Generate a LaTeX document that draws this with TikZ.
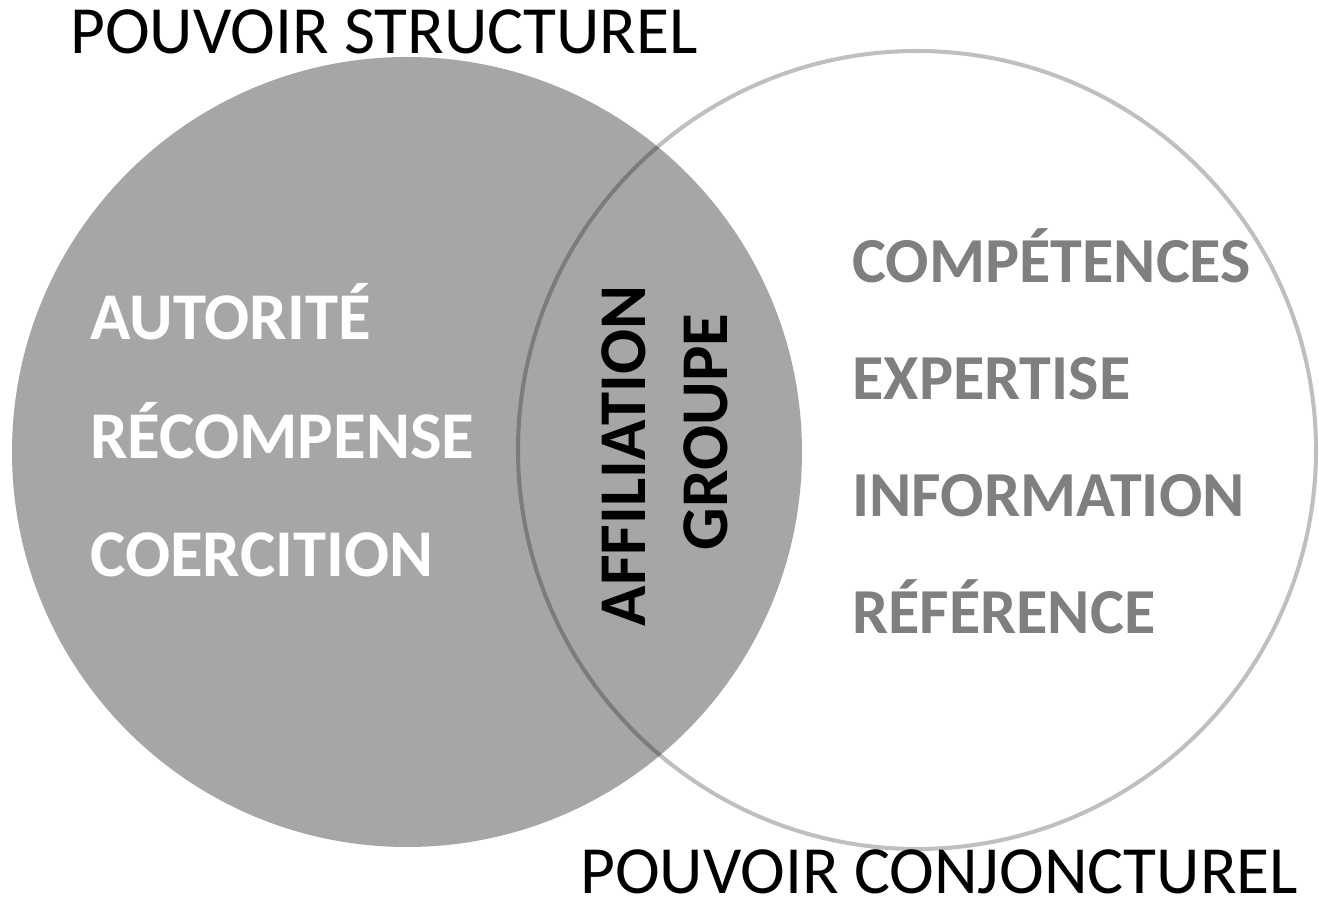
\documentclass[tikz,border=0pt]{standalone}
\usepackage{fontspec}
\setmainfont{Carlito}
\usepackage{xcolor}
\usetikzlibrary{positioning}

\definecolor{discgray}{HTML}{A6A6A6}
\definecolor{wordgray}{HTML}{7F7F7F}

\begin{document}
\begin{tikzpicture}[every node/.style={inner sep=0pt, font=\fontsize{38.4}{46}\selectfont},
  title/.style={anchor=base west},
  inword/.style={anchor=base west, text=white, font=\fontsize{38}{46}\selectfont\bfseries},
  outword/.style={anchor=base west, text=wordgray, font=\fontsize{36.5}{44}\selectfont\bfseries},
  midword/.style={rotate=90, text=black, font=\fontsize{38}{46}\selectfont\bfseries}]
  \useasboundingbox (0,0) rectangle (26.38,18.04);

  % the two discs
  \fill[discgray] (8.14,9.0) circle (7.9);
  \draw[black, draw opacity=0.25, line width=2.3pt] (18.34,9.04) circle (7.98);

  % headings
  \node[title] (struct) at (1.4,16.96) {POUVOIR STRUCTUREL};
  \node[title] (conj) at (11.6,0.16) {POUVOIR CONJONCTUREL};

  % left disc
  \node[inword] (aut) at (1.8,11.24) {AUTORITÉ};
  \node[inword, below=2.37cm of aut.base west, anchor=base west] (rec) {RÉCOMPENSE};
  \node[inword, below=2.37cm of rec.base west, anchor=base west] (coe) {COERCITION};

  % right disc
  \node[outword] (comp) at (17.04,12.38) {COMPÉTENCES};
  \node[outword, below=2.34cm of comp.base west, anchor=base west] (exp) {EXPERTISE};
  \node[outword, below=2.34cm of exp.base west, anchor=base west] (info) {INFORMATION};
  \node[outword, below=2.34cm of info.base west, anchor=base west] (ref) {RÉFÉRENCE};

  % overlap
  \node[midword] (aff) at (12.48,8.92) {AFFILIATION};
  \node[midword] (grp) at (14.12,9.4) {GROUPE};
\end{tikzpicture}
\end{document}
